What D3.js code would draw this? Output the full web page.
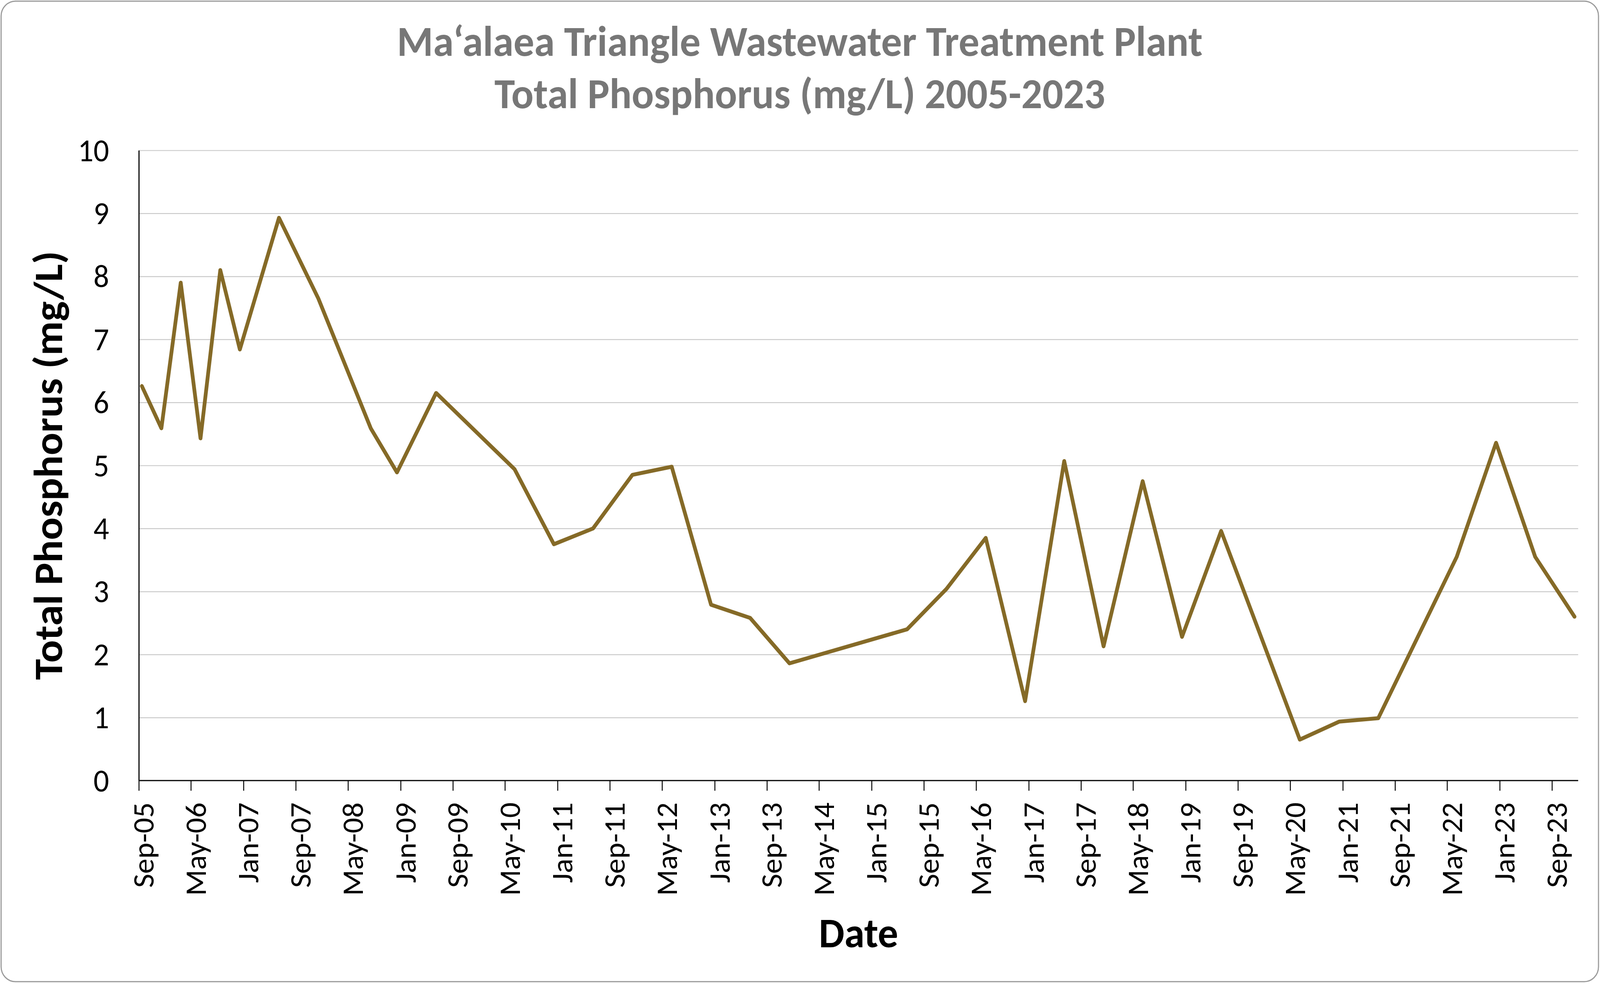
<!DOCTYPE html>
<html>
<head>
<meta charset="utf-8">
<script src="https://cdn.jsdelivr.net/npm/d3@7"></script>
<style>
  html, body { margin: 0; padding: 0; background: #ffffff; width: 100%; height: 100%; overflow: hidden; }
  svg { display: block; width: 100vw; height: 100vh; }
  text { font-family: Carlito, Calibri, Lato, "Open Sans", sans-serif; }
</style>
</head>
<body>
<svg id="chart" viewBox="0 0 4253 2520" preserveAspectRatio="none"></svg>
<script>
// ---- data ----
const sampleDates = [
  "2005-09-15","2005-12-15","2006-03-15","2006-06-15","2006-09-15","2006-12-15",
  "2007-06-15","2007-12-15","2008-08-15","2008-12-15","2009-06-15","2010-06-15",
  "2010-12-15","2011-06-15","2011-12-15","2012-06-15","2012-12-15","2013-06-15",
  "2013-12-15","2015-06-15","2015-12-15","2016-06-15","2016-12-15","2017-06-15",
  "2017-12-15","2018-06-15","2018-12-15","2019-06-15","2020-06-15","2020-12-15",
  "2021-06-15","2022-06-15","2022-12-15","2023-06-15","2023-12-15"
];
const phosphorus = [
  6.26, 5.59, 7.90, 5.43, 8.10, 6.84,
  8.93, 7.65, 5.59, 4.89, 6.15, 4.94,
  3.75, 4.00, 4.85, 4.98, 2.79, 2.58,
  1.86, 2.40, 3.04, 3.85, 1.26, 5.07,
  2.13, 4.75, 2.28, 3.96, 0.65, 0.935,
  0.99, 3.55, 5.36, 3.55, 2.60
];
const xTickLabels = [
  "Sep-05","May-06","Jan-07","Sep-07","May-08","Jan-09","Sep-09","May-10",
  "Jan-11","Sep-11","May-12","Jan-13","Sep-13","May-14","Jan-15","Sep-15",
  "May-16","Jan-17","Sep-17","May-18","Jan-19","Sep-19","May-20","Jan-21",
  "Sep-21","May-22","Jan-23","Sep-23"
];
const yTickValues = [0,1,2,3,4,5,6,7,8,9,10];
const xDomain = ["2005-09-01", "2024-01-01"];
const yDomain = [0, 10];
const titleLines = ["Ma\u2018alaea Triangle Wastewater Treatment Plant", "Total Phosphorus (mg/L) 2005-2023"];
const xAxisTitle = "Date";
const yAxisTitle = "Total Phosphorus (mg/L)";

// ---- layout ----
const W = 4253, H = 2520;
const plot = { left: 369, right: 4195, top: 385, bottom: 1999 };
const lineColor = "#856A27";

const parseISO = d3.timeParse("%Y-%m-%d");
const parseTick = d3.timeParse("%b-%y");
const fmtTick = d3.timeFormat("%b-%y");

const data = sampleDates.map((d, i) => ({ date: parseISO(d), value: phosphorus[i] }));
const tickDates = xTickLabels.map(parseTick);

const x = d3.scaleTime().domain(xDomain.map(parseISO)).range([plot.left, plot.right]);
const y = d3.scaleLinear().domain(yDomain).range([plot.bottom, plot.top]);

const svg = d3.select("#chart");

// chart border
svg.append("rect")
  .attr("x", 3).attr("y", 3).attr("width", W - 7).attr("height", H - 9)
  .attr("rx", 38).attr("ry", 38)
  .attr("fill", "#ffffff").attr("stroke", "#9a9a9a").attr("stroke-width", 3);

// title
svg.append("g").selectAll("text").data(titleLines).join("text")
  .attr("x", 2126).attr("y", (d, i) => 143 + i * 134)
  .attr("text-anchor", "middle")
  .attr("font-weight", "bold").attr("font-size", 110)
  .attr("fill", "#777777")
  .text(d => d);

// gridlines
const yAxisGrid = d3.axisLeft(y).tickValues(yTickValues.filter(v => v > 0))
  .tickSize(-(plot.right - plot.left)).tickFormat("");
const gridG = svg.append("g").attr("transform", `translate(${plot.left},0)`).call(yAxisGrid);
gridG.select(".domain").remove();
gridG.selectAll("line").attr("stroke", "#c6c6c6").attr("stroke-width", 2.2);

// y axis (labels only + axis line)
const yAxis = d3.axisLeft(y).tickValues(yTickValues).tickSize(0).tickPadding(79).tickFormat(d3.format("d"));
const yG = svg.append("g").attr("transform", `translate(${plot.left},0)`).call(yAxis);
yG.select(".domain").attr("stroke", "#000").attr("stroke-width", 3);
yG.selectAll("text")
  .attr("font-size", 82).attr("fill", "#000")
  .attr("font-family", "Carlito, Calibri, Lato, sans-serif")
  .attr("dy", "0.33em");

// x axis
const xAxis = d3.axisBottom(x).tickValues(tickDates).tickSize(26).tickFormat(fmtTick);
const xG = svg.append("g").attr("transform", `translate(0,${plot.bottom})`).call(xAxis);
xG.select(".domain").attr("stroke", "#000").attr("stroke-width", 3)
  .attr("d", `M${plot.left},0H${plot.right}`);
xG.selectAll(".tick line").attr("stroke", "#000").attr("stroke-width", 2.5);
xG.selectAll(".tick text")
  .attr("font-size", 78).attr("fill", "#000")
  .attr("font-family", "Carlito, Calibri, Lato, sans-serif")
  .attr("text-anchor", "end")
  .attr("transform", "rotate(-90)")
  .attr("x", -56).attr("y", 0).attr("dy", "0.5em");

// axis titles
svg.append("text")
  .attr("x", (plot.left + plot.right) / 2).attr("y", 2426)
  .attr("text-anchor", "middle").attr("font-weight", "bold").attr("font-size", 108)
  .attr("fill", "#000").text(xAxisTitle);
svg.append("text")
  .attr("transform", `translate(165,${(plot.top + plot.bottom) / 2}) rotate(-90)`)
  .attr("text-anchor", "middle").attr("font-weight", "bold").attr("font-size", 108)
  .attr("fill", "#000").text(yAxisTitle);

// data line
const line = d3.line().x(d => x(d.date)).y(d => y(d.value));
svg.append("path").datum(data)
  .attr("d", line)
  .attr("fill", "none").attr("stroke", lineColor)
  .attr("stroke-width", 10).attr("stroke-linejoin", "round").attr("stroke-linecap", "round");
</script>
</body>
</html>
